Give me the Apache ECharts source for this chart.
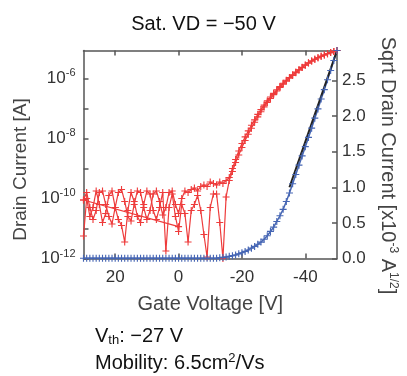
<!DOCTYPE html>
<html>
<head>
<meta charset="utf-8">
<script src="https://cdn.jsdelivr.net/npm/echarts@6/dist/echarts.min.js"></script>
<style>html,body{margin:0;padding:0;background:#fff;}#c{width:407px;height:376px;}</style>
</head>
<body>
<div id="c"></div>
<script>
// Gate voltage (V), sweep points
const gateV = [30,29,28,27,26,25,24,23,22,21,20,19,18,17,16,15,14,13,12,11,10,9,8,7,6,5,4,3,2,1,0,
  -1,-2,-3,-4,-5,-6,-7,-8,-9,-10,-11,-12,-13,-14,-15,-16,-17,-18,-19,-20,-21,-22,-23,-24,-25,-26,-27,-28,-29,-30,
  -31,-32,-33,-34,-35,-36,-37,-38,-39,-40,-41,-42,-43,-44,-45,-46,-47,-48,-49,-50];
// Drain current exponent (log10 of A), forward sweep
const redFwdExp = [-11.25,-10.0,-10.6,-10.3,-9.75,-10.2,-10.8,-10.5,-9.9,-9.75,-10.3,-10.7,-10.9,-11.45,-10.4,-9.8,-10.1,-10.6,-10.8,-10.2,-9.75,-9.85,-10.4,-10.7,-10.3,-9.8,-11.75,-10.3,-9.85,-10.6,-11.1,
  -10.2,-10.5,-11.45,-10.4,-10.2,-9.9,-10.4,-11.2,-11.95,-10.3,-9.85,-9.85,-10.8,-12.0,-9.95,-9.4,-9.1,-8.8,-8.55,-8.3,-8.07,-7.86,-7.66,-7.46,-7.28,-7.11,-6.95,-6.8,-6.67,-6.54,
  -6.42,-6.3,-6.19,-6.09,-5.99,-5.9,-5.81,-5.72,-5.64,-5.56,-5.49,-5.42,-5.36,-5.31,-5.26,-5.22,-5.18,-5.14,-5.1,-5.07];
// Drain current exponent, reverse sweep
const redRevExp = [-10.05,-9.8,-10.3,-10.7,-10.4,-9.8,-9.75,-10.2,-10.6,-10.85,-10.3,-9.8,-9.7,-10.1,-10.6,-10.75,-10.2,-9.75,-9.8,-10.3,-10.7,-10.4,-9.85,-9.75,-10.1,-10.55,-10.3,-9.8,-9.75,-10.2,-10.5,
  -10.0,-9.75,-9.8,-9.7,-9.65,-9.75,-9.6,-9.55,-9.6,-9.45,-9.5,-9.55,-9.45,-9.5,-9.4,-9.3,-9.0,-8.7,-8.42,-8.17,-7.95,-7.75,-7.56,-7.38,-7.2,-7.04,-6.89,-6.75,-6.62,-6.5,
  -6.38,-6.27,-6.16,-6.06,-5.97,-5.88,-5.79,-5.71,-5.63,-5.55,-5.48,-5.42,-5.36,-5.31,-5.26,-5.22,-5.18,-5.14,-5.1,-5.07];
// Extra sparse segment in off region
const diagV = [30, 0];
const diagExp = [-10.05, -10.94];
// Sqrt drain current (x1e-3 A^1/2)
const blueSqrt = [0.004,0.004,0.004,0.004,0.004,0.004,0.004,0.004,0.004,0.004,0.004,0.004,0.004,0.004,0.004,0.004,0.004,0.004,0.004,0.004,0.004,0.004,0.004,0.004,0.004,0.004,0.004,0.004,0.004,0.004,0.004,
  0.004,0.004,0.004,0.004,0.004,0.004,0.004,0.004,0.004,0.004,0.004,0.004,0.01,0.015,0.02,0.03,0.04,0.05,0.065,0.08,0.10,0.12,0.145,0.17,0.20,0.23,0.27,0.32,0.38,0.44,
  0.52,0.60,0.69,0.80,0.92,1.05,1.18,1.31,1.44,1.57,1.70,1.83,1.97,2.10,2.24,2.37,2.51,2.64,2.78,2.92];
// Linear fit
const fitV = [-35, -50];
const fitSqrt = [1.0, 2.92];
// Ticks
const xTicks = [-40, -20, 0, 20];
const leftTicks = [1e-12, 1e-11, 1e-10, 1e-9, 1e-8, 1e-7, 1e-6];
const leftLabels = [1e-12, 1e-10, 1e-8, 1e-6];
const rightTicks = [0, 0.5, 1.0, 1.5, 2.0, 2.5];

const FONT = 'Liberation Sans, Arial, sans-serif';
const RED = '#ee3b3b';
const BLUE = '#4666b4';
const PLUS = 'path://M0,4.2H10V5.8H0Z M4.2,0H5.8V10H4.2Z';

const pair = (xs, ys, f) => xs.map((x, i) => [x, f ? f(ys[i]) : ys[i]]);
const p10 = v => Math.pow(10, v);

const chart = echarts.init(document.getElementById('c'), null, {renderer: 'canvas'});
const axisLineStyle = {color: '#555', width: 1.5};
chart.setOption({
  animation: false,
  backgroundColor: '#fff',
  title: {
    text: 'Sat. VD = \u221250 V', left: 'center', top: 9,
    textStyle: {fontFamily: FONT, fontSize: 20, fontWeight: 'normal', color: '#111'}
  },
  grid: {left: 83.5, right: 63.5, top: 50.5, bottom: 117.5, containLabel: false},
  xAxis: [{
    type: 'value', inverse: true, min: -50, max: 30, position: 'bottom',
    name: 'Gate Voltage [V]', nameLocation: 'middle', nameGap: 36,
    nameTextStyle: {fontFamily: FONT, fontSize: 20, color: '#444'},
    axisLine: {show: true, onZero: false, lineStyle: axisLineStyle},
    axisTick: {show: true, inside: true, length: 5, lineStyle: axisLineStyle, customValues: xTicks},
    axisLabel: {fontFamily: FONT, fontSize: 17, color: '#333', margin: 10, customValues: xTicks},
    splitLine: {show: false}
  }, {
    type: 'value', inverse: true, min: -50, max: 30, position: 'top',
    axisLine: {show: true, onZero: false, lineStyle: axisLineStyle},
    axisTick: {show: true, inside: true, length: 5, lineStyle: axisLineStyle, customValues: xTicks},
    axisLabel: {show: false},
    splitLine: {show: false}
  }],
  yAxis: [{
    type: 'log', logBase: 10, min: 1e-12, max: 8.5e-6, position: 'left',
    name: 'Drain Current [A]', nameLocation: 'middle', nameGap: 52, nameRotate: 90,
    nameTextStyle: {fontFamily: FONT, fontSize: 19, color: '#444', padding: [0, 30, 0, 0]},
    axisLine: {show: true, onZero: false, lineStyle: axisLineStyle},
    axisTick: {show: true, inside: true, length: 5, lineStyle: axisLineStyle, customValues: leftTicks},
    axisLabel: {
      customValues: leftLabels, margin: 8,
      formatter: v => '{b|10}{s|' + Math.round(Math.log10(v)) + '}',
      rich: {
        b: {fontFamily: FONT, fontSize: 17, color: '#333'},
        s: {fontFamily: FONT, fontSize: 11, color: '#333', padding: [0, 0, 10, 0]}
      }
    },
    splitLine: {show: false}
  }, {
    type: 'value', min: 0, max: 2.92, position: 'right',
    name: '{t|Sqrt Drain Current [x10}{s|-3}{t| A}{s|1/2}{t|]}',
    nameLocation: 'middle', nameGap: 40, nameRotate: -90,
    nameTextStyle: {
      color: '#444', padding: [0, 0, 0, 22],
      rich: {
        t: {fontFamily: FONT, fontSize: 20, color: '#444'},
        s: {fontFamily: FONT, fontSize: 12, color: '#444', padding: [0, 0, 10, 0]}
      }
    },
    axisLine: {show: true, onZero: false, lineStyle: axisLineStyle},
    axisTick: {show: true, inside: true, length: 5, lineStyle: axisLineStyle, customValues: rightTicks},
    axisLabel: {fontFamily: FONT, fontSize: 17, color: '#333', margin: 5, customValues: rightTicks,
      formatter: v => v.toFixed(1)},
    splitLine: {show: false}
  }],
  series: [{
    type: 'line', xAxisIndex: 0, yAxisIndex: 0, data: pair(gateV, redFwdExp, p10),
    symbol: PLUS, symbolSize: 7, showAllSymbol: true,
    lineStyle: {color: RED, width: 1.2}, itemStyle: {color: RED}
  }, {
    type: 'line', xAxisIndex: 0, yAxisIndex: 0, data: pair(gateV, redRevExp, p10),
    symbol: PLUS, symbolSize: 7, showAllSymbol: true,
    lineStyle: {color: RED, width: 1.2}, itemStyle: {color: RED}
  }, {
    type: 'line', xAxisIndex: 0, yAxisIndex: 0, data: pair(diagV, diagExp, p10),
    symbol: PLUS, symbolSize: 7, showAllSymbol: true,
    lineStyle: {color: RED, width: 1.2}, itemStyle: {color: RED}
  }, {
    type: 'line', xAxisIndex: 0, yAxisIndex: 1, data: pair(gateV, blueSqrt),
    symbol: PLUS, symbolSize: 7, showAllSymbol: true,
    lineStyle: {color: BLUE, width: 1.5}, itemStyle: {color: BLUE}
  }, {
    type: 'line', xAxisIndex: 0, yAxisIndex: 1, data: pair(fitV, fitSqrt),
    symbol: 'none', lineStyle: {color: '#222', width: 2}
  }],
  graphic: [{
    type: 'text', left: 95, top: 326,
    style: {
      text: '{m|V}{sub|th}{m|: \u221227 V}',
      rich: {
        m: {fontFamily: FONT, fontSize: 20, fill: '#111'},
        sub: {fontFamily: FONT, fontSize: 13, fill: '#111', padding: [8, 0, 0, 0]}
      }
    }
  }, {
    type: 'text', left: 95, top: 352,
    style: {
      text: '{m|Mobility: 6.5cm}{sup|2}{m|/Vs}',
      rich: {
        m: {fontFamily: FONT, fontSize: 20, fill: '#111'},
        sup: {fontFamily: FONT, fontSize: 13, fill: '#111', padding: [0, 0, 9, 0]}
      }
    }
  }]
});
</script>
</body>
</html>
